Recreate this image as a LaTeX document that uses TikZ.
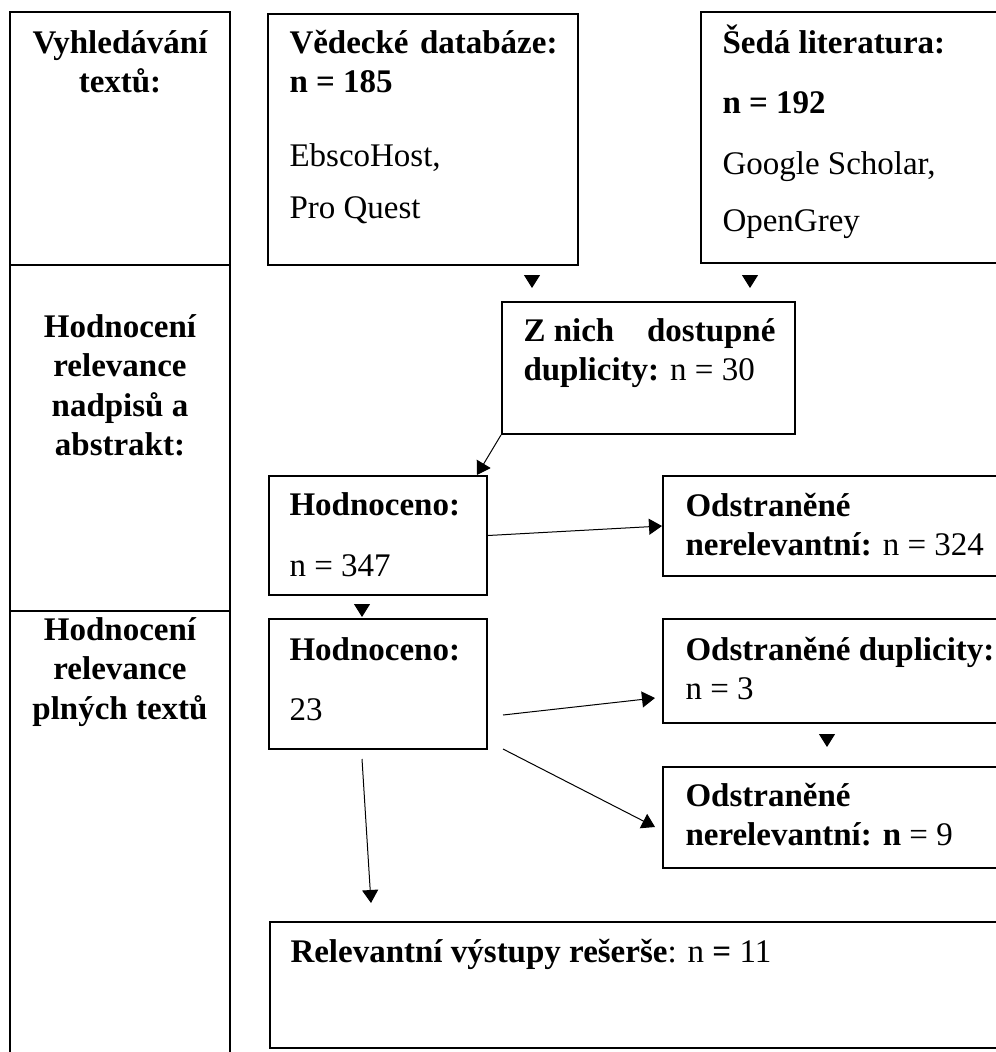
\documentclass[tikz,border=0pt]{standalone}
\usepackage{fontspec}
\setmainfont{Liberation Serif}
\usetikzlibrary{arrows.meta,positioning,fit}
\newcommand{\topline}{\rule{0pt}{13pt}}

\begin{document}
\begin{tikzpicture}[x=0.4pt, y=-0.4pt,
    box/.style={draw, rectangle, line width=0.8pt, inner sep=0pt},
    txt/.style={anchor=north west, align=left, inner sep=0pt, yshift=13pt},
    stage/.style={txt, anchor=north, align=center, font=\bfseries},
    arr/.style={-{Triangle[length=5.2pt,width=6.4pt]}, line width=0.4pt},
    tip/.style={arr, shorten <=5.2pt}]
    \fontsize{13.2}{15.7}\selectfont
    \useasboundingbox (0,0) rectangle (995,1052);

    % stages on the left
    \node (cellA) [box, fit={(10,12) (230,265)}] {};
    \node (cellB) [box, fit={(10,265) (230,611)}] {};
    \node (cellC) [box, fit={(10,611) (230,1070)}] {};
    \node (stageA) at (120,53) [stage] {\topline Vyhledávání\\textů:};
    \node (stageB) at (120,337) [stage] {\topline Hodnocení\\relevance\\nadpisů a\\abstrakt:};
    \node (stageC) at (120,640) [stage] {\topline Hodnocení\\relevance\\plných textů};

    % boxes
    \node (db) [box, fit={(268,14) (578,265)}] {};
    \node (grey) [box, fit={(701,12) (1010,263)}] {};
    \node (dup) [box, fit={(502,302) (795,434)}] {};
    \node (evalA) [box, fit={(269,476) (487,595)}] {};
    \node (remA) [box, fit={(663,476) (1010,576)}] {};
    \node (evalB) [box, fit={(269,619) (487,749)}] {};
    \node (remdup) [box, fit={(663,619) (1010,723)}] {};
    \node (remB) [box, fit={(663,767) (1010,868)}] {};
    \node (result) [box, fit={(270,922) (1010,1048)}] {};

    % texts
    \node (dbtext) at (289,53) [txt] {\topline\makebox[107.2pt][s]{\bfseries Vědecké databáze:}\\\textbf{n = 185}\\[13.6pt]EbscoHost,\\[5.2pt]Pro Quest};
    \node (greytext) at (722,53) [txt] {\topline\textbf{Šedá literatura:}\\[8.4pt]\textbf{n = 192}\\[8.4pt]Google Scholar,\\[7.2pt]OpenGrey};
    \node (duptext) at (523,341) [txt] {\topline\makebox[100.8pt][s]{\bfseries\mbox{Z nich}\hfill dostupné}\\\textbf{duplicity:} n = 30};
    \node (evalAtext) at (289,515) [txt] {\topline\textbf{Hodnoceno:}\\[8.8pt]n = 347};
    \node (remAtext) at (685,516) [txt] {\topline\textbf{Odstraněné}\\\textbf{nerelevantní:} n = 324};
    \node (evalBtext) at (289,660) [txt] {\topline\textbf{Hodnoceno:}\\[8.4pt]23};
    \node (remduptext) at (685,660) [txt] {\topline\textbf{Odstraněné duplicity:}\\n = 3};
    \node (remBtext) at (685,806) [txt] {\topline\textbf{Odstraněné}\\\textbf{nerelevantní: n} = 9};
    \node (resulttext) at (290,962) [txt] {\topline\textbf{Relevantní výstupy rešerše}: n \textbf{=} 11};

    % connectors
    \coordinate (t1) at (532,288);
    \coordinate (t2) at (750,288);
    \coordinate (t3) at (362,617);
    \coordinate (t4) at (827,747);
    \coordinate (s1) at (503,715);
    \coordinate (e1) at (655,698);
    \coordinate (s2) at (503,749);
    \coordinate (e2) at (655,827);
    \coordinate (s3) at (362,759);
    \coordinate (e3) at (371,903);

    \draw [tip] (t1 |- db.south) -- (t1);
    \draw [tip] (t2 |- grey.south) -- (t2);
    \draw [arr] (dup.south west) -- ([xshift=-4.4pt]evalA.north east);
    \draw [arr] (evalA.east) -- (remA.west);
    \draw [tip] (t3 |- evalA.south) -- (t3);
    \draw [arr] (s1) -- (e1);
    \draw [arr] (s2) -- (e2);
    \draw [arr] (s3) -- (e3);
    \draw [tip] (t4 |- remdup.south) -- (t4);
\end{tikzpicture}
\end{document}
